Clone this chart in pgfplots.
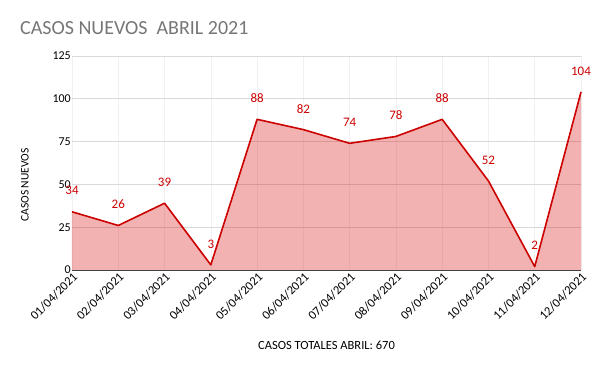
\documentclass[border=0pt]{standalone}
\usepackage{pgfplots}
\pgfplotsset{compat=1.18}
\usepackage{fontspec}
\setmainfont{Carlito}
\definecolor{linered}{RGB}{204,0,0}
\definecolor{fillred}{RGB}{216,22,22}
\definecolor{titlegray}{RGB}{118,118,118}
\definecolor{gridgray}{RGB}{217,217,217}
\begin{document}
\begin{tikzpicture}[x=1pt,y=1pt]
\useasboundingbox (0,0) rectangle (600,371);
\node[anchor=west, text=titlegray, font=\fontsize{20}{22}\selectfont, inner sep=0pt] at (20,343) {CASOS NUEVOS\ \ ABRIL 2021};
\begin{axis}[
  at={(72pt,101pt)}, anchor=south west,
  scale only axis, width=509pt, height=214pt,
  xmin=0, xmax=11, ymin=0, ymax=125,
  ytick={0,25,50,75,100,125},
  xtick={0,...,11},
  xticklabels={01/04/2021,02/04/2021,03/04/2021,04/04/2021,05/04/2021,06/04/2021,07/04/2021,08/04/2021,09/04/2021,10/04/2021,11/04/2021,12/04/2021},
  xticklabel style={rotate=45, anchor=north east, inner sep=1pt, font=\fontsize{12.5}{14}\selectfont, black},
  yticklabel style={font=\fontsize{12}{14}\selectfont, black, inner sep=1pt},
  /pgf/number format/assume math mode=true,
  major tick length=0pt,
  ymajorgrids, xmajorgrids,
  y grid style={gridgray, line width=0.8pt},
  x grid style={black!6, line width=0.6pt},
  axis y line*=left,
  y axis line style={draw=none},
  axis x line*=bottom,
  x axis line style={black!75, line width=0.9pt, -},
  xlabel={CASOS TOTALES ABRIL: 670},
  xlabel style={font=\fontsize{12.5}{14}\selectfont, at={(axis description cs:0.5,0)}, anchor=center, yshift=-75pt, xshift=0pt},
  clip=false,
  every axis plot/.append style={line join=round},
]
\addplot[draw=none, fill=fillred, fill opacity=0.33] coordinates {
(0,34) (1,26) (2,39) (3,3) (4,88) (5,82) (6,74) (7,78) (8,88) (9,52) (10,2) (11,104)
} \closedcycle;
\addplot[linered, line width=1.6pt,
  nodes near coords,
  every node near coord/.style={anchor=center, yshift=21pt, text=linered, font=\fontsize{13}{15}\selectfont},
  /pgf/number format/assume math mode=true
] coordinates {
(0,34) (1,26) (2,39) (3,3) (4,88) (5,82) (6,74) (7,78) (8,88) (9,52) (10,2) (11,104)
};
\end{axis}
\node[rotate=90, font=\fontsize{11.5}{13}\selectfont] at (25,186) {CASOS NUEVOS};
\end{tikzpicture}
\end{document}
